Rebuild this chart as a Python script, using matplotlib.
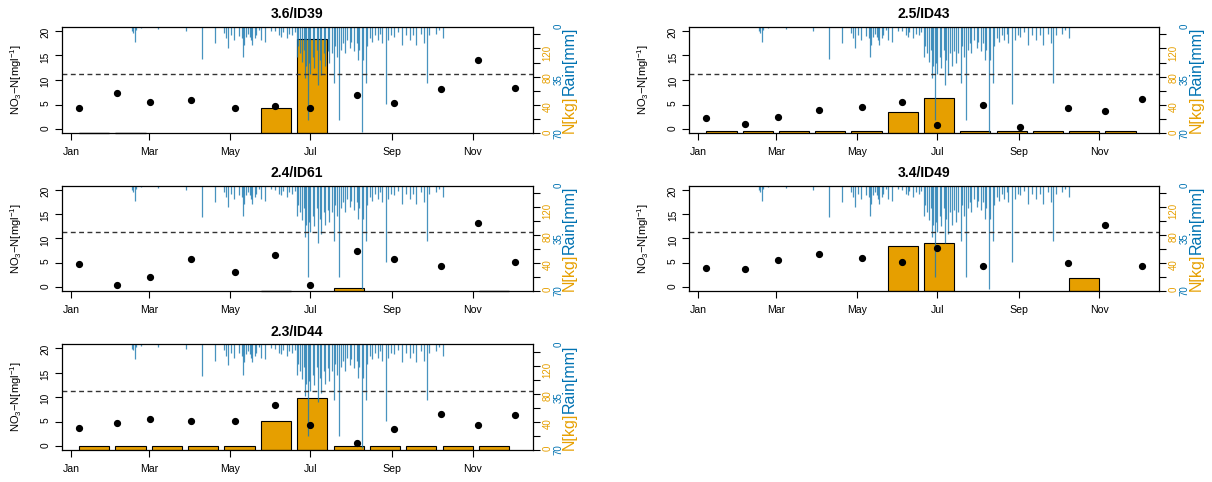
import numpy as np
import matplotlib
matplotlib.use("Agg")
import matplotlib.pyplot as plt
import matplotlib.dates as mdates
from matplotlib.transforms import blended_transform_factory, ScaledTranslation

plt.rcParams["font.family"] = ["Liberation Sans", "DejaVu Sans"]
plt.rcParams["mathtext.fontset"] = "custom"
plt.rcParams["mathtext.rm"] = "Liberation Sans"

# ---------------------------------------------------------------- data
YEAR_START = np.datetime64("2017-01-01")

# monthly sampling days (day of year, 0 = 1 Jan)
SAMPLE_DOY = [6, 35, 60, 91, 124, 154, 181, 216, 244, 280, 308, 336]

SITES = ["3.6/ID39", "2.5/ID43", "2.4/ID61", "3.4/ID49", "2.3/ID44"]

# nitrate-N concentration [mg/l]
NO3_ID39 = [4.4, 7.4, 5.6, 6.0, 4.4, 4.8, 4.4, 7.0, 5.4, 8.2, 14.0, 8.4]
NO3_ID43 = [2.3, 1.1, 2.6, 4.0, 4.6, 5.6, 0.8, 5.0, 0.5, 4.4, 3.7, 6.2]
NO3_ID61 = [4.65, 0.35, 2.0, 5.7, 3.0, 6.5, 0.35, 7.35, 5.85, 4.3, 13.1, 5.25]
NO3_ID49 = [4.0, 3.65, 5.65, 6.75, 6.05, 5.05, 7.95, 4.3, np.nan, 4.85, 12.65, 4.3]
NO3_ID44 = [3.6, 4.7, 5.5, 5.15, 5.15, 8.4, 4.4, 0.55, 3.45, 6.6, 4.4, 6.3]

# monthly nitrogen load [kg]
NKG_ID39 = [0, 0, np.nan, np.nan, np.nan, 35.4, 133.0, np.nan, np.nan, np.nan, np.nan, np.nan]
NKG_ID43 = [3.8, 3.8, 3.8, 3.8, 3.8, 30.7, 49.5, 3.8, 3.8, 3.8, 3.8, 3.8]
NKG_ID61 = [np.nan, np.nan, np.nan, np.nan, np.nan, 0, np.nan, 4.7, np.nan, np.nan, np.nan, 0]
NKG_ID49 = [np.nan, np.nan, np.nan, np.nan, np.nan, 63.7, 69.3, np.nan, np.nan, np.nan, 17.9, np.nan]
NKG_ID44 = [5.2, 5.2, 5.2, 5.2, 5.2, 41.5, 74.5, 5.2, 5.2, 5.2, 5.2, 5.2]

NO3_LIMIT = 11.3

# daily rainfall (day of year, mm)
RAIN_DOY = [46, 47, 48, 49, 53, 66, 87, 99, 109, 116, 117, 119, 121, 123, 127,
            129, 130, 131, 132, 134, 135, 136, 137, 139, 140, 142, 144, 147, 151,
            154, 157, 159, 160, 163, 165, 167, 169, 171, 172, 173, 175, 176, 177,
            178, 179, 180, 181, 183, 184, 186, 187, 188, 189, 191, 192, 194, 195,
            197, 199, 200, 201, 203, 204, 206, 207, 209, 211, 212, 214, 216, 217,
            218, 220, 221, 223, 224, 226, 228, 230, 232, 234, 235, 238, 240, 242,
            244, 247, 250, 253, 256, 259, 261, 265, 267, 269, 271, 276, 278, 281]
RAIN_MM = [3, 4, 10, 2, 1, 1.5, 3, 21, 11, 4, 7.5, 14, 5.5, 9, 6,
           7.5, 20, 12, 6.5, 4.5, 6.5, 9, 12, 7.5, 5.5, 2, 9, 10, 2.5,
           3, 5.5, 6.5, 3.5, 7.5, 4.5, 5.5, 3.5, 20, 13, 17.5, 23, 15, 34,
           26, 61, 24, 31, 20, 27, 15, 38, 22, 32, 17.5, 26, 16, 24,
           17.5, 37, 13, 20, 61, 15, 11, 17.5, 9, 14, 10, 16, 11, 22,
           15, 69, 22, 37, 13, 7.5, 10, 5.5, 9, 4.5, 11, 51, 9, 5.5,
           6.5, 3.5, 12, 5.5, 9, 5.5, 12, 4.5, 11, 37, 5.5, 4.5, 2, 7.5]

MONTH_TICKS = ["2017-01-01", "2017-03-01", "2017-05-01",
               "2017-07-01", "2017-09-01", "2017-11-01"]
MONTH_LABELS = ["Jan", "Mar", "May", "Jul", "Sep", "Nov"]

NKG_TICKS = [0, 20, 40, 60, 80, 100, 120, 140]
NKG_LABELS = ["0", "", "40", "", "80", "", "120", ""]
RAIN_TICKS = [0, 35, 70]

# ---------------------------------------------------------------- style
GOLD = "#E69F00"
BLUE = "#0072B2"
W, H = 1212, 482

fig = plt.figure(figsize=(W / 100, H / 100), dpi=100)

# panel boxes in pixels: (left, right) per column, (top, bottom) per row
COLS = [(61.6, 532.7), (689.0, 1159.0)]
ROWS = [(26.7, 133.3), (185.7, 291.0), (344.3, 450.0)]
LAYOUT = [(0, 0), (0, 1), (1, 0), (1, 1), (2, 0)]


def to_num(doy):
    return mdates.date2num(YEAR_START + np.asarray(doy).astype("timedelta64[D]"))


def px_shift(dx):
    return ScaledTranslation(dx / 100.0, 0, fig.dpi_scale_trans)


def draw_panel(row, col, title, no3, nkg):
    l, r = COLS[col]
    t, b = ROWS[row]
    rect = [l / W, 1 - b / H, (r - l) / W, (b - t) / H]

    # --- monthly N loads as a bar chart (right axis)
    axb = fig.add_axes(rect)
    nkg = np.asarray(nkg, dtype=float)
    idx = np.arange(len(nkg))
    lefts = 0.2 + 1.2 * idx
    keep = ~np.isnan(nkg)
    axb.bar(lefts[keep], nkg[keep], width=1.0, align="edge",
            color=GOLD, edgecolor="black", linewidth=0.8)
    # empty months still show their (flat) bar outline
    flat = keep & (nkg == 0)
    if flat.any():
        axb.hlines(nkg[flat] + 0.6, lefts[flat], lefts[flat] + 1.0,
                   color="black", linewidth=0.9, clip_on=False)
    span = 0.2 + 1.2 * len(nkg) - 0.2
    axb.set_xlim(0.2 - 0.04 * span, 0.2 + span + 0.04 * span)
    axb.set_ylim(0, 150.7)
    axb.set_xticks([])
    axb.yaxis.tick_right()
    axb.set_yticks(NKG_TICKS)
    axb.set_yticklabels(NKG_LABELS)
    axb.tick_params(axis="y", direction="out", length=5, width=0.8,
                    labelsize=7, labelcolor=GOLD, labelrotation=90, pad=2)
    for s in axb.spines.values():
        s.set_visible(False)

    # --- daily rainfall hanging from the top (inverted axis)
    x0 = to_num(SAMPLE_DOY[0])
    x1 = to_num(SAMPLE_DOY[-1])
    xr = (x0 - 0.04 * (x1 - x0), x1 + 0.04 * (x1 - x0))

    axr = fig.add_axes(rect)
    axr.patch.set_visible(False)
    axr.vlines(to_num(RAIN_DOY), 0, RAIN_MM, color="#1a78b0", linewidth=0.9,
               alpha=0.8)
    axr.set_xlim(xr)
    axr.set_ylim(70, 0)
    axr.set_xticks([])
    axr.set_yticks([])
    for s in axr.spines.values():
        s.set_visible(False)

    # --- nitrate concentrations
    ax = fig.add_axes(rect)
    ax.patch.set_visible(False)
    ax.plot(to_num(SAMPLE_DOY), no3, "o", color="black", markersize=4.2,
            linestyle="none")
    ax.axhline(NO3_LIMIT, color="#333333", linewidth=1.0,
               linestyle=(0, (3.5, 2.5)))
    ax.set_xlim(xr)
    ax.set_ylim(-0.8, 20.8)
    ax.set_yticks([0, 5, 10, 15, 20])
    ax.set_xticks(mdates.date2num(np.array(MONTH_TICKS, dtype="datetime64[D]")))
    ax.set_xticklabels(MONTH_LABELS)
    ax.tick_params(axis="y", direction="out", length=5, width=0.8,
                   labelsize=7.3, labelrotation=90, pad=3)
    ax.tick_params(axis="x", direction="out", length=5, width=0.8,
                   labelsize=7.6, pad=5)
    for s in ax.spines.values():
        s.set_linewidth(0.9)
    ax.set_title(title, fontsize=10, fontweight="bold", pad=6)

    # left axis title
    tl = blended_transform_factory(ax.transAxes, ax.transAxes)
    ax.text(0, 0.5, r"NO$_\mathregular{3}$$-$N[mgl$^\mathregular{-1}$]",
            transform=tl + px_shift(-46), rotation=90, fontsize=8,
            ha="center", va="center")

    # rainfall scale labels and right axis titles
    trr = blended_transform_factory(axr.transAxes, axr.transData)
    for v in RAIN_TICKS:
        axr.text(1, v, str(v), transform=trr + px_shift(25.5), rotation=90,
                 fontsize=7, color=BLUE, ha="center", va="center")
    tra = blended_transform_factory(ax.transAxes, ax.transAxes)
    ax.text(1, 0, "N[kg]", transform=tra + px_shift(37), rotation=90,
            rotation_mode="anchor", fontsize=11.5, color=GOLD,
            ha="left", va="center")
    ax.text(1, 1, "Rain[mm]", transform=tra + px_shift(37), rotation=90,
            rotation_mode="anchor", fontsize=11.5, color=BLUE,
            ha="right", va="center")


PANEL_NO3 = [NO3_ID39, NO3_ID43, NO3_ID61, NO3_ID49, NO3_ID44]
PANEL_NKG = [NKG_ID39, NKG_ID43, NKG_ID61, NKG_ID49, NKG_ID44]

for (row, col), title, no3, nkg in zip(LAYOUT, SITES, PANEL_NO3, PANEL_NKG):
    draw_panel(row, col, title, no3, nkg)

fig.savefig("out.png", dpi=100)
